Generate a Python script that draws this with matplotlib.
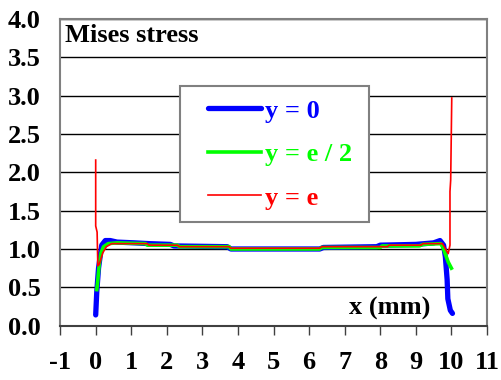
import matplotlib.pyplot as plt
from matplotlib.patches import Rectangle

# data
x_y0 = [0.0, 0.03, 0.08, 0.13, 0.17, 0.27, 0.41, 0.6, 1.1, 1.5, 2.1, 2.2, 3.7, 3.8,
        6.3, 6.4, 7.9, 8.0, 9.0, 9.5, 9.68, 9.78, 9.83, 9.88, 9.9, 9.97, 10.03]
s_y0 = [0.14, 0.44, 0.75, 0.92, 1.05, 1.11, 1.11, 1.09, 1.08, 1.07, 1.06, 1.04, 1.03, 1.0,
        1.0, 1.02, 1.03, 1.05, 1.06, 1.08, 1.11, 1.05, 0.9, 0.6, 0.35, 0.2, 0.16]

x_ye2 = [0.03, 0.05, 0.1, 0.15, 0.22, 0.35, 0.6, 1.4, 1.45, 2.3, 2.35, 3.75, 3.8,
         6.3, 6.35, 8.0, 8.05, 9.1, 9.2, 9.7, 9.77, 9.91, 10.0]
s_ye2 = [0.47, 0.55, 0.8, 0.95, 1.03, 1.07, 1.08, 1.07, 1.05, 1.05, 1.03, 1.03, 1.0,
         1.0, 1.02, 1.02, 1.04, 1.04, 1.06, 1.07, 1.01, 0.83, 0.75]

x_ye = [0.0, 0.0, 0.04, 0.06, 0.1, 0.2, 0.3, 0.45, 1.45, 1.5, 2.3, 2.35, 3.75, 3.8,
        6.3, 6.35, 8.2, 8.25, 9.15, 9.2, 9.75, 9.86, 9.91, 9.96, 9.96, 9.98, 10.01]
s_ye = [2.16, 1.30, 1.22, 0.78, 0.8, 0.95, 1.03, 1.07, 1.07, 1.05, 1.05, 1.03, 1.03, 1.01,
        1.01, 1.03, 1.03, 1.05, 1.05, 1.07, 1.07, 0.98, 0.94, 1.05, 1.75, 1.9, 2.97]

xticks = list(range(-1, 12))
yticks = [0.0, 0.5, 1.0, 1.5, 2.0, 2.5, 3.0, 3.5, 4.0]

plt.rcParams['font.family'] = 'Liberation Serif'
plt.rcParams['font.weight'] = 'bold'

fig = plt.figure(figsize=(5.01, 3.8), dpi=100)
ax = fig.add_axes([0.12, 0.143, 0.852, 0.807])

ax.plot(x_y0, s_y0, color='#0000ff', lw=3.8, solid_capstyle='round', label='y = 0', zorder=3)
ax.plot(x_ye2, s_ye2, color='#00ff00', lw=2.6, label='y = e / 2', zorder=4)
ax.plot(x_ye, s_ye, color='#ff0000', lw=1.2, label='y = e', zorder=5)

ax.set_xlim(-1, 11)
ax.set_ylim(0, 4)
ax.set_xticks(xticks)
ax.set_xticklabels([str(t) for t in xticks])
ax.set_yticks(yticks)
ax.set_yticklabels(['%.1f' % t for t in yticks])
ax.tick_params(axis='x', direction='out', length=6.5, width=1, color='#404040', pad=12, labelsize=19)
ax.tick_params(axis='y', length=0, pad=14, labelsize=19)
ax.grid(axis='y', color='black', lw=1)
ax.set_axisbelow(True)
for sp in ax.spines.values():
    sp.set_color('#808080')
    sp.set_linewidth(1.5)
ax.spines['bottom'].set_color('#404040')

ax.text(-0.86, 3.70, 'Mises stress', fontsize=19, fontweight='bold', ha='left', va='baseline')
ax.text(8.27, 0.14, 'x (mm)', fontsize=19, fontweight='bold', ha='center', va='baseline')

# legend frame drawn separately (wide side padding)
ax.add_patch(Rectangle((0.281, 0.338), 0.443, 0.443, transform=ax.transAxes,
                       facecolor='white', edgecolor='#808080', lw=1.5, zorder=9))
leg = ax.legend(loc='upper left', bbox_to_anchor=(0.3466, 0.739), borderaxespad=0,
                frameon=False, labelcolor='linecolor', handlelength=2.0, handletextpad=0.15,
                labelspacing=0.76, borderpad=0, prop={'weight': 'bold', 'size': 19})
leg.set_zorder(10)

fig.savefig('out.png', dpi=100)
